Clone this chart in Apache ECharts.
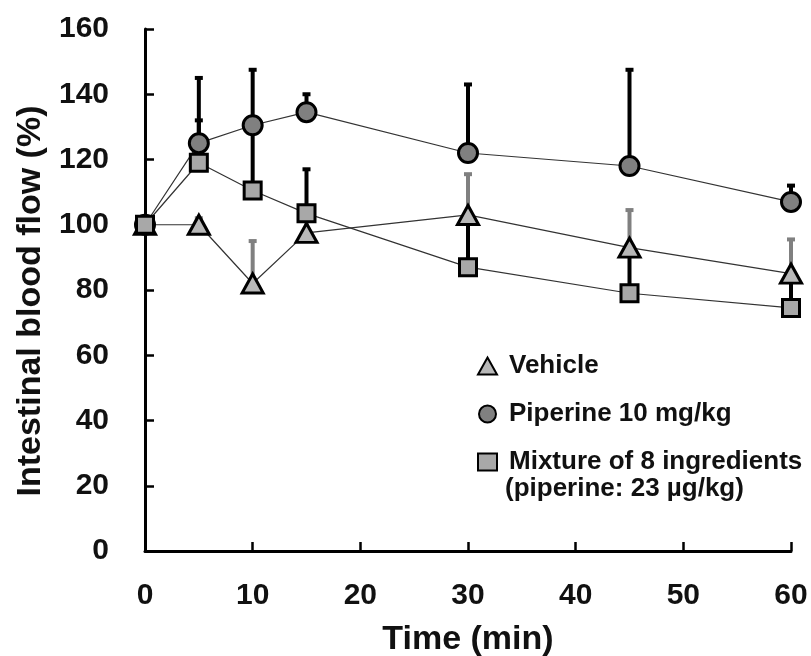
<!DOCTYPE html>
<html>
<head>
<meta charset="utf-8">
<script src="https://cdn.jsdelivr.net/npm/echarts@6/dist/echarts.min.js"></script>
<style>
html,body{margin:0;padding:0;background:#fff;}
#main{width:811px;height:656px;}
</style>
</head>
<body>
<div id="main"></div>
<script>
var times = [0, 5, 10, 15, 30, 45, 60];
var vehicle = [100, 100, 82, 97.5, 103, 93, 85];
var vehicleErr = [0, 2, 13, 5, 12.5, 11.5, 10.5];
var piperine = [100, 125, 130.5, 134.5, 122, 118, 107];
var piperineErr = [0, 20, 17, 5.5, 21, 29.5, 5];
var mixture = [100, 119, 110.5, 103.5, 87, 79, 74.5];
var mixtureErr = [0, 13, 20, 13.5, 16, 14, 10];
var names = ['Vehicle', 'Piperine 10 mg/kg', 'Mixture of 8 ingredients'];

var myChart = echarts.init(document.getElementById('main'));
var font = 'Liberation Sans, Arial, sans-serif';

function pts(vals){
	return times.map(function(t, i){ return [t, vals[i]]; });
}
function errPts(vals, errs){
	return times.map(function(t, i){ return [t, vals[i], vals[i] + errs[i]]; });
}
function errSeries(vals, errs, color){
	return {
		type: 'custom',
		z: 1,
		silent: true,
		data: errPts(vals, errs),
		renderItem: function(params, api){
			if (api.value(2) <= api.value(1)) return null;
			var p0 = api.coord([api.value(0), api.value(1)]);
			var p1 = api.coord([api.value(0), api.value(2)]);
			var st = {stroke: color, lineWidth: 4};
			return {
				type: 'group',
				children: [
					{type: 'line', shape: {x1: p0[0], y1: p0[1], x2: p1[0], y2: p1[1]}, style: st},
					{type: 'line', shape: {x1: p1[0] - 4, y1: p1[1], x2: p1[0] + 4, y2: p1[1]}, style: st}
				]
			};
		}
	};
}
function lineSeries(name, vals, symbol, size, fill){
	return {
		name: name,
		type: 'line',
		z: 3,
		data: pts(vals),
		symbol: symbol,
		symbolSize: size,
		showAllSymbol: true,
		lineStyle: {color: '#333', width: 1.2},
		itemStyle: {color: fill, borderColor: '#000', borderWidth: 3}
	};
}

var option = {
	animation: false,
	backgroundColor: '#fff',
	grid: {left: 145, right: 20, top: 29, bottom: 105, containLabel: false, outerBoundsMode: 'none'},
	legend: {
		orient: 'vertical',
		left: 472,
		top: 346,
		itemGap: 18,
		itemWidth: 19,
		itemHeight: 17,
		data: [
			{name: names[0], icon: 'triangle'},
			{name: names[1], icon: 'circle'},
			{name: names[2], icon: 'rect'}
		],
		textStyle: {fontFamily: font, fontWeight: 'bold', fontSize: 26, color: '#111', lineHeight: 30, padding: [0, 0, 0, 7]}
	},
	graphic: [{
		type: 'text',
		left: 505,
		top: 476,
		style: {text: '(piperine: 23 µg/kg)', font: 'bold 26px ' + font, fill: '#111'}
	}],
	xAxis: {
		type: 'value',
		min: 0, max: 60, interval: 10,
		name: 'Time (min)',
		nameLocation: 'middle',
		nameGap: 72,
		nameTextStyle: {fontFamily: font, fontWeight: 'bold', fontSize: 34, color: '#111'},
		axisLine: {lineStyle: {color: '#000', width: 3}},
		axisTick: {inside: true, length: 9, lineStyle: {color: '#000', width: 2.5}},
		axisLabel: {margin: 30, fontFamily: font, fontWeight: 'bold', fontSize: 30, color: '#111'},
		splitLine: {show: false}
	},
	yAxis: {
		type: 'value',
		min: 0, max: 160, interval: 20,
		name: 'Intestinal blood flow (%)',
		nameLocation: 'middle',
		nameGap: 97,
		nameTextStyle: {fontFamily: font, fontWeight: 'bold', fontSize: 34, color: '#111', padding: [0, 22, 0, 0]},
		axisLine: {show: true, lineStyle: {color: '#000', width: 3}},
		axisTick: {show: true, inside: true, length: 9, lineStyle: {color: '#000', width: 2.5}},
		axisLabel: {margin: 36, fontFamily: font, fontWeight: 'bold', fontSize: 30, color: '#111'},
		splitLine: {show: false}
	},
	series: [
		errSeries(vehicle, vehicleErr, '#808080'),
		errSeries(piperine, piperineErr, '#000'),
		errSeries(mixture, mixtureErr, '#000'),
		lineSeries(names[0], vehicle, 'triangle', [21, 19], '#b8b8b8'),
		lineSeries(names[1], piperine, 'circle', 19, '#808080'),
		lineSeries(names[2], mixture, 'rect', 17, '#a8a8a8')
	]
};
myChart.setOption(option);
</script>
</body>
</html>
